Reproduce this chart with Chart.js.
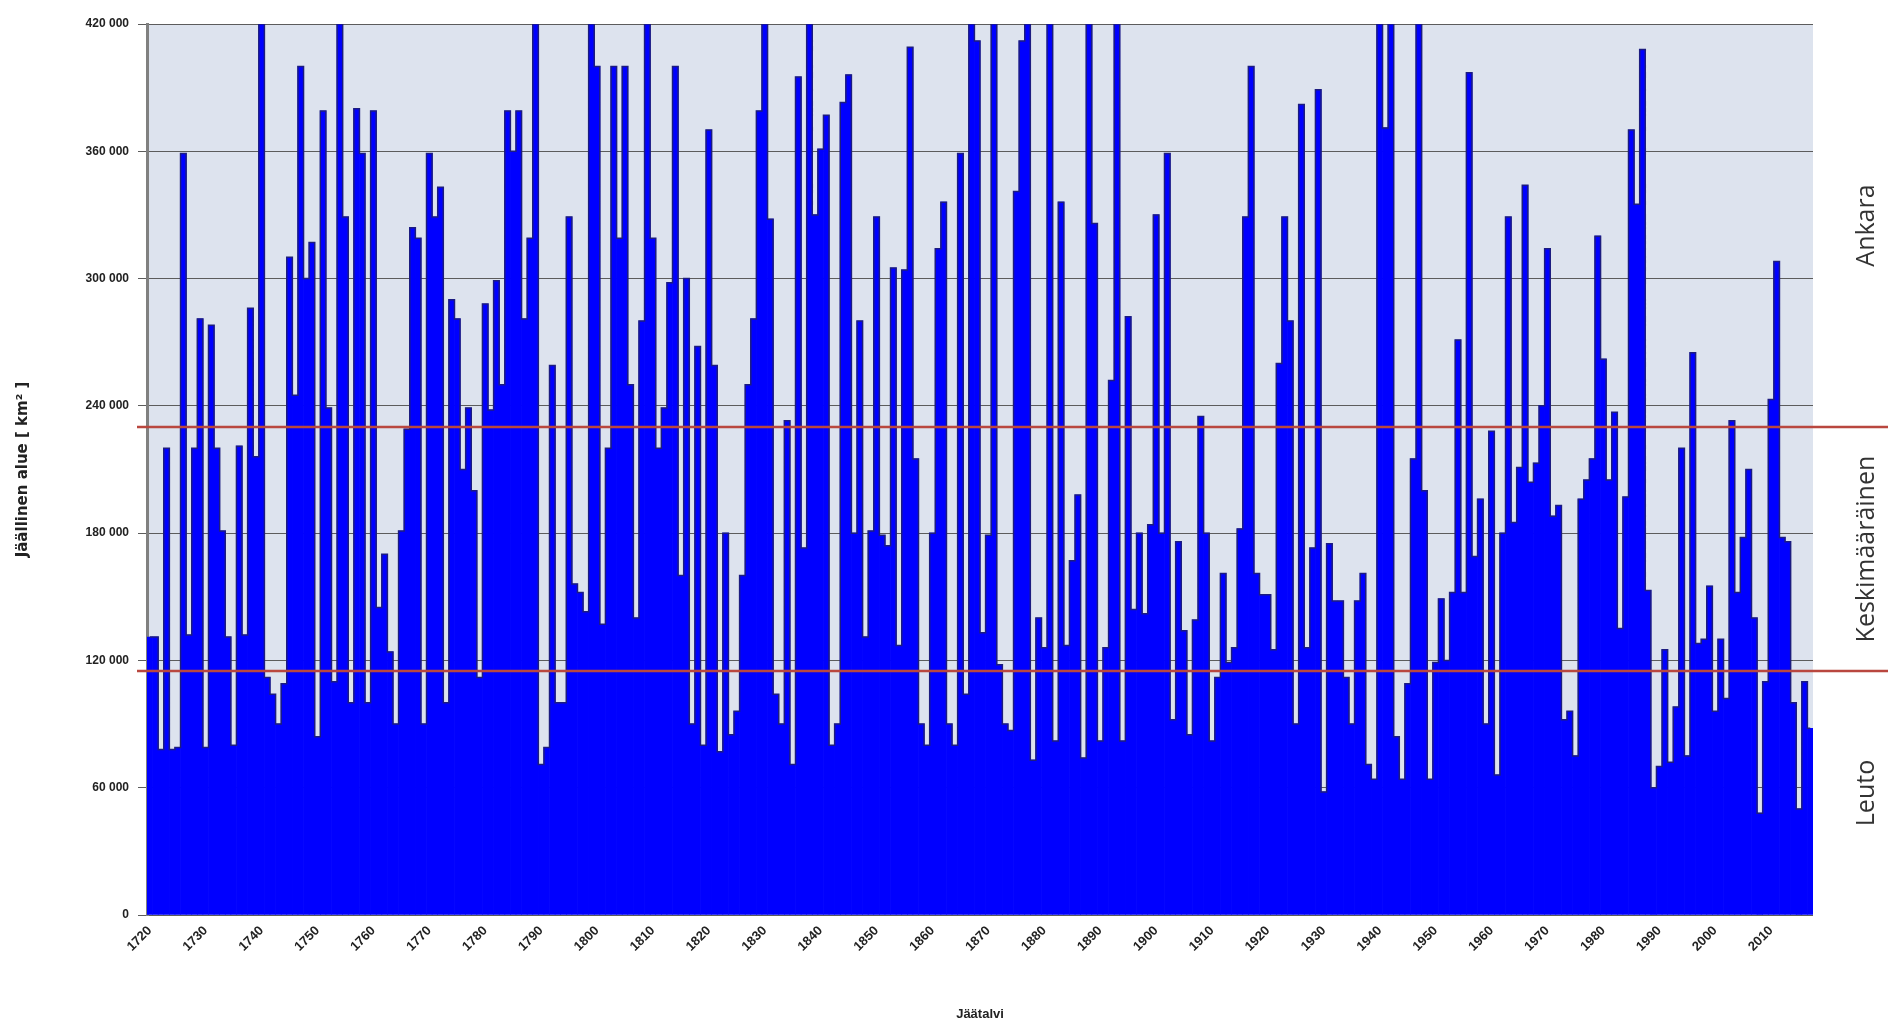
<!DOCTYPE html>
<html>
<head>
<meta charset="utf-8">
<script src="https://cdn.jsdelivr.net/npm/chart.js@4.4.1/dist/chart.umd.min.js"></script>
<style>
  html, body { margin: 0; padding: 0; background: #fff; }
  #wrap { width: 1888px; height: 1023px; }
</style>
</head>
<body>
<div id="wrap"><canvas id="iceChart" width="1888" height="1023"></canvas></div>
<script>
// Baltic sea maximum ice extent per ice winter, km2
const firstYear = 1720;
const iceExtent = [
  131000, 131000, 78000, 220000, 78000, 79000, 359000, 132000, 220000, 281000, 79000, 278000, 220000, 181000, 131000, 80000, 221000, 132000, 286000, 216000,
  420000, 112000, 104000, 90000, 109000, 310000, 245000, 400000, 300000, 317000, 84000, 379000, 239000, 110000, 420000, 329000, 100000, 380000, 359000, 100000,
  379000, 145000, 170000, 124000, 90000, 181000, 229000, 324000, 319000, 90000, 359000, 329000, 343000, 100000, 290000, 281000, 210000, 239000, 200000, 112000,
  288000, 238000, 299000, 250000, 379000, 360000, 379000, 281000, 319000, 420000, 71000, 79000, 259000, 100000, 100000, 329000, 156000, 152000, 143000, 420000,
  400000, 137000, 220000, 400000, 319000, 400000, 250000, 140000, 280000, 420000, 319000, 220000, 239000, 298000, 400000, 160000, 300000, 90000, 268000, 80000,
  370000, 259000, 77000, 180000, 85000, 96000, 160000, 250000, 281000, 379000, 420000, 328000, 104000, 90000, 233000, 71000, 395000, 173000, 420000, 330000,
  361000, 377000, 80000, 90000, 383000, 396000, 180000, 280000, 131000, 181000, 329000, 179000, 174000, 305000, 127000, 304000, 409000, 215000, 90000, 80000,
  180000, 314000, 336000, 90000, 80000, 359000, 104000, 420000, 412000, 133000, 179000, 420000, 118000, 90000, 87000, 341000, 412000, 420000, 73000, 140000,
  126000, 420000, 82000, 336000, 127000, 167000, 198000, 74000, 420000, 326000, 82000, 126000, 252000, 420000, 82000, 282000, 144000, 180000, 142000, 184000,
  330000, 180000, 359000, 92000, 176000, 134000, 85000, 139000, 235000, 180000, 82000, 112000, 161000, 119000, 126000, 182000, 329000, 400000, 161000, 151000,
  151000, 125000, 260000, 329000, 280000, 90000, 382000, 126000, 173000, 389000, 58000, 175000, 148000, 148000, 112000, 90000, 148000, 161000, 71000, 64000,
  420000, 371000, 420000, 84000, 64000, 109000, 215000, 420000, 200000, 64000, 119000, 149000, 120000, 152000, 271000, 152000, 397000, 169000, 196000, 90000,
  228000, 66000, 180000, 329000, 185000, 211000, 344000, 204000, 213000, 240000, 314000, 188000, 193000, 92000, 96000, 75000, 196000, 205000, 215000, 320000,
  262000, 205000, 237000, 135000, 197000, 370000, 335000, 408000, 153000, 60000, 70000, 125000, 72000, 98000, 220000, 75000, 265000, 128000, 130000, 155000,
  96000, 130000, 102000, 233000, 152000, 178000, 210000, 140000, 48000, 110000, 243000, 308000, 178000, 176000, 100000, 50000, 110000, 88000
];
const tickYears = [1720, 1730, 1740, 1750, 1760, 1770, 1780, 1790, 1800, 1810, 1820, 1830, 1840, 1850, 1860,
  1870, 1880, 1890, 1900, 1910, 1920, 1930, 1940, 1950, 1960, 1970, 1980, 1990, 2000, 2010];
const yTicks = [0, 60000, 120000, 180000, 240000, 300000, 360000, 420000];
const limitValues = [115000, 230000];
const zoneNames = ['Leuto', 'Keskimääräinen', 'Ankara'];
const zoneMids = [57500, 172500, 325000];

const years = iceExtent.map((v, i) => String(firstYear + i));
const fmt = (v) => String(v).replace(/\B(?=(\d{3})+(?!\d))/g, ' ');
const tickFont = { family: 'Liberation Sans', size: 12, weight: 'bold' };

// light plot area background
const plotBg = {
  id: 'plotBg',
  beforeDraw(chart) {
    const { ctx, chartArea: a } = chart;
    ctx.save();
    ctx.fillStyle = '#dde3ee';
    ctx.fillRect(a.left, a.top, a.width, a.height);
    ctx.restore();
  }
};

// red class limits and the class names on the right
const limitLines = {
  id: 'limitLines',
  afterDatasetsDraw(chart) {
    const { ctx, chartArea: a, scales: { y } } = chart;
    ctx.save();
    ctx.strokeStyle = '#b9473f';
    ctx.lineWidth = 2.5;
    limitValues.forEach(v => {
      const py = y.getPixelForValue(v);
      ctx.beginPath();
      ctx.moveTo(a.left - 10, py);
      ctx.lineTo(chart.width, py);
      ctx.stroke();
    });
    ctx.fillStyle = '#333';
    ctx.font = '25px "Open Sans"';
    ctx.textAlign = 'center';
    ctx.textBaseline = 'middle';
    zoneNames.forEach((t, i) => {
      ctx.save();
      ctx.translate(a.right + 54, y.getPixelForValue(zoneMids[i]));
      ctx.rotate(-Math.PI / 2);
      ctx.fillText(t, 0, 0);
      ctx.restore();
    });
    ctx.restore();
  }
};

const ctx = document.getElementById('iceChart');
new Chart(ctx, {
  data: {
    labels: years,
    datasets: [
      {
        type: 'line',
        data: iceExtent,
        stepped: 'middle',
        borderColor: '#1c1c80',
        borderWidth: 1.5,
        pointRadius: 0,
        fill: false,
        order: 1
      },
      {
        type: 'bar',
        data: iceExtent,
        backgroundColor: '#0000ff',
        borderWidth: 0,
        barPercentage: 1,
        categoryPercentage: 1,
        order: 2
      }
    ]
  },
  options: {
    responsive: false,
    animation: false,
    devicePixelRatio: 1,
    layout: { padding: { left: 12, right: 75, top: 24, bottom: 0 } },
    plugins: {
      legend: { display: false },
      tooltip: { enabled: false }
    },
    scales: {
      x: {
        grid: { display: false, drawTicks: false },
        border: { display: false },
        ticks: {
          autoSkip: false,
          minRotation: 45,
          maxRotation: 45,
          padding: 8,
          color: '#222',
          font: { family: 'Liberation Sans', size: 13, weight: 'bold' },
          callback: (value, index) => tickYears.includes(firstYear + index) ? String(firstYear + index) : ''
        },
        title: {
          display: true,
          text: 'Jäätalvi',
          color: '#222',
          font: { family: 'Liberation Sans', size: 13, weight: 'bold' },
          padding: { top: 4, bottom: 1 }
        },
        afterFit: (s) => { s.height = 108; }
      },
      y: {
        min: 0,
        max: 420000,
        afterBuildTicks: (s) => { s.ticks = yTicks.map(v => ({ value: v })); },
        grid: { color: '#5c5c5c', lineWidth: 1, tickLength: 9 },
        border: { display: true, color: '#808080', width: 3 },
        ticks: {
          padding: 9,
          color: '#222',
          font: tickFont,
          callback: (v) => fmt(v)
        },
        title: {
          display: true,
          text: 'Jäällinen alue [ km² ]',
          color: '#222',
          font: { family: 'DejaVu Sans', size: 15, weight: 'bold' },
          padding: { top: 2, bottom: 4 }
        },
        afterFit: (s) => { s.width = 135; }
      }
    }
  },
  plugins: [plotBg, limitLines]
});
</script>
</body>
</html>
